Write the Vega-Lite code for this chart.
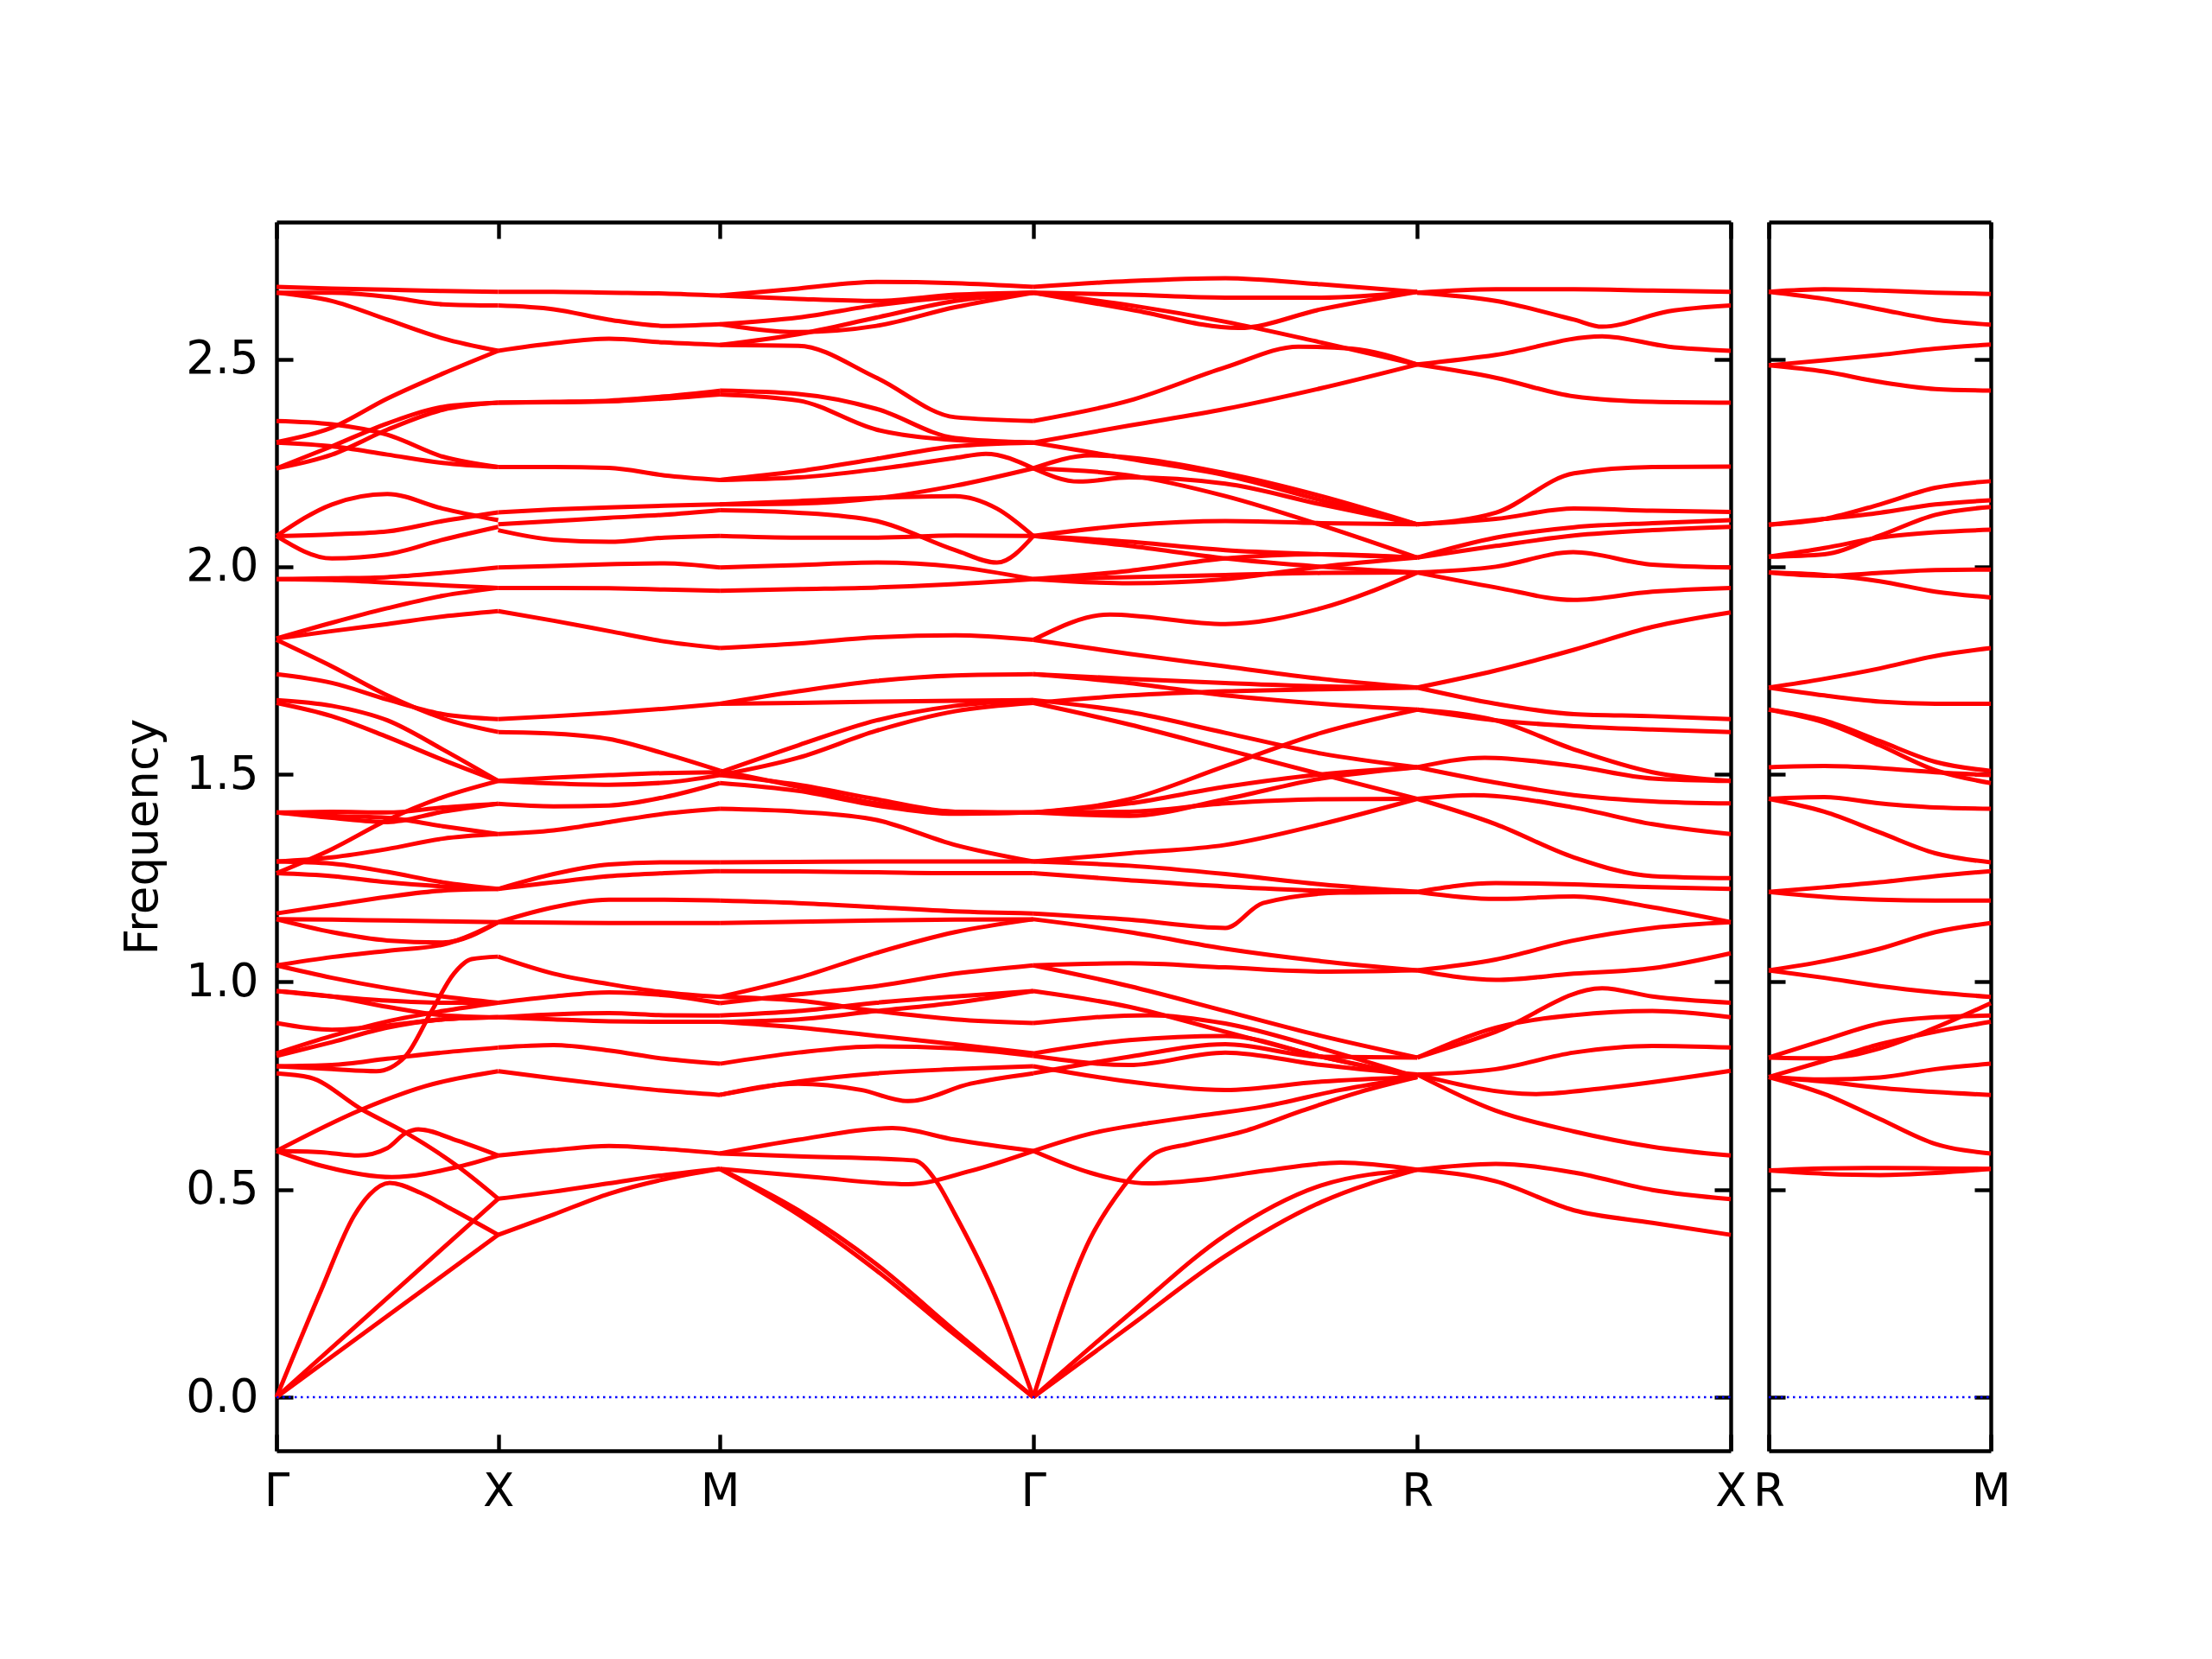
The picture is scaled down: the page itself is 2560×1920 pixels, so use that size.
{
"$schema": "https://vega.github.io/schema/vega-lite/v6.json",
"background": "white",
"padding": {"left": 139, "top": 254, "right": 5, "bottom": 5},
"spacing": 44,
"bounds": "flush",
"config": {"view": {"stroke": null}, "font": "DejaVu Sans",
 "axis": {"domainColor": "black", "tickColor": "black", "domainWidth": 4.4, "tickWidth": 4.4, "tickSize": -19, "labelFont": "DejaVu Sans", "labelFontSize": 53, "labelColor": "black", "titleFont": "DejaVu Sans", "titleFontSize": 53, "titleFontWeight": "normal", "titleColor": "black", "grid": false, "labelPadding": 40, "labelFlush": false, "labelOverlap": false}},
"datasets": {
"m": [
{"b":1,"x":0,"y":2.674},{"b":1,"x":0.25,"y":2.670},{"b":1,"x":0.5,"y":2.667},{"b":1,"x":0.75,"y":2.664},{"b":1,"x":1,"y":2.662},
{"b":2,"x":0,"y":2.660},{"b":2,"x":0.25,"y":2.660},{"b":2,"x":0.5,"y":2.650},{"b":2,"x":0.75,"y":2.632},{"b":2,"x":1,"y":2.629},
{"b":3,"x":0,"y":2.660},{"b":3,"x":0.25,"y":2.640},{"b":3,"x":0.5,"y":2.595},{"b":3,"x":0.75,"y":2.550},{"b":3,"x":1,"y":2.520},
{"b":4,"x":0,"y":2.300},{"b":4,"x":0.25,"y":2.335},{"b":4,"x":0.5,"y":2.405},{"b":4,"x":0.75,"y":2.465},{"b":4,"x":1,"y":2.520},
{"b":5,"x":0,"y":2.351},{"b":5,"x":0.25,"y":2.343},{"b":5,"x":0.5,"y":2.318},{"b":5,"x":0.75,"y":2.265},{"b":5,"x":1,"y":2.240},
{"b":6,"x":0,"y":2.299},{"b":6,"x":0.25,"y":2.290},{"b":6,"x":0.5,"y":2.270},{"b":6,"x":0.75,"y":2.250},{"b":6,"x":1,"y":2.240},
{"b":7,"x":0,"y":2.237},{"b":7,"x":0.25,"y":2.290},{"b":7,"x":0.5,"y":2.345},{"b":7,"x":0.75,"y":2.385},{"b":7,"x":1,"y":2.395},
{"b":8,"x":0,"y":2.237},{"b":8,"x":0.25,"y":2.270},{"b":8,"x":0.5,"y":2.330},{"b":8,"x":0.75,"y":2.378},{"b":8,"x":1,"y":2.395},
{"b":9,"x":0,"y":2.074},{"b":9,"x":0.25,"y":2.150},{"b":9,"x":0.5,"y":2.175},{"b":9,"x":0.75,"y":2.140},{"b":9,"x":1,"y":2.112},
{"b":10,"x":0,"y":2.074},{"b":10,"x":0.25,"y":2.078},{"b":10,"x":0.5,"y":2.085},{"b":10,"x":0.75,"y":2.110},{"b":10,"x":1,"y":2.131},
{"b":11,"x":0,"y":2.074},{"b":11,"x":0.25,"y":2.020},{"b":11,"x":0.5,"y":2.030},{"b":11,"x":0.75,"y":2.065},{"b":11,"x":1,"y":2.096},
{"b":12,"x":0,"y":1.970},{"b":12,"x":0.25,"y":1.972},{"b":12,"x":0.5,"y":1.975},{"b":12,"x":0.75,"y":1.985},{"b":12,"x":1,"y":1.998},
{"b":13,"x":0,"y":1.970},{"b":13,"x":0.25,"y":1.968},{"b":13,"x":0.5,"y":1.962},{"b":13,"x":0.75,"y":1.955},{"b":13,"x":1,"y":1.949},
{"b":14,"x":0,"y":1.827},{"b":14,"x":0.25,"y":1.865},{"b":14,"x":0.5,"y":1.900},{"b":14,"x":0.75,"y":1.930},{"b":14,"x":1,"y":1.949},
{"b":15,"x":0,"y":1.827},{"b":15,"x":0.25,"y":1.845},{"b":15,"x":0.5,"y":1.862},{"b":15,"x":0.75,"y":1.880},{"b":15,"x":1,"y":1.893},
{"b":16,"x":0,"y":1.824},{"b":16,"x":0.25,"y":1.760},{"b":16,"x":0.5,"y":1.690},{"b":16,"x":0.75,"y":1.635},{"b":16,"x":1,"y":1.602},
{"b":17,"x":0,"y":1.741},{"b":17,"x":0.25,"y":1.720},{"b":17,"x":0.5,"y":1.680},{"b":17,"x":0.75,"y":1.645},{"b":17,"x":1,"y":1.633},
{"b":18,"x":0,"y":1.679},{"b":18,"x":0.25,"y":1.665},{"b":18,"x":0.5,"y":1.630},{"b":18,"x":0.75,"y":1.560},{"b":18,"x":1,"y":1.484},
{"b":19,"x":0,"y":1.672},{"b":19,"x":0.25,"y":1.640},{"b":19,"x":0.5,"y":1.590},{"b":19,"x":0.75,"y":1.535},{"b":19,"x":1,"y":1.484},
{"b":20,"x":0,"y":1.408},{"b":20,"x":0.25,"y":1.410},{"b":20,"x":0.5,"y":1.408},{"b":20,"x":0.75,"y":1.420},{"b":20,"x":1,"y":1.429},
{"b":21,"x":0,"y":1.408},{"b":21,"x":0.25,"y":1.395},{"b":21,"x":0.5,"y":1.385},{"b":21,"x":0.75,"y":1.410},{"b":21,"x":1,"y":1.429},
{"b":22,"x":0,"y":1.408},{"b":22,"x":0.25,"y":1.400},{"b":22,"x":0.5,"y":1.395},{"b":22,"x":0.75,"y":1.375},{"b":22,"x":1,"y":1.356},
{"b":23,"x":0,"y":1.262},{"b":23,"x":0.25,"y":1.320},{"b":23,"x":0.5,"y":1.390},{"b":23,"x":0.75,"y":1.445},{"b":23,"x":1,"y":1.484},
{"b":24,"x":0,"y":1.290},{"b":24,"x":0.25,"y":1.300},{"b":24,"x":0.5,"y":1.320},{"b":24,"x":0.75,"y":1.345},{"b":24,"x":1,"y":1.356},
{"b":25,"x":0,"y":1.290},{"b":25,"x":0.25,"y":1.285},{"b":25,"x":0.5,"y":1.265},{"b":25,"x":0.75,"y":1.240},{"b":25,"x":1,"y":1.224},
{"b":26,"x":0,"y":1.262},{"b":26,"x":0.25,"y":1.255},{"b":26,"x":0.5,"y":1.240},{"b":26,"x":0.75,"y":1.230},{"b":26,"x":1,"y":1.224},
{"b":27,"x":0,"y":1.165},{"b":27,"x":0.25,"y":1.185},{"b":27,"x":0.5,"y":1.205},{"b":27,"x":0.75,"y":1.220},{"b":27,"x":1,"y":1.224},
{"b":28,"x":0,"y":1.151},{"b":28,"x":0.25,"y":1.150},{"b":28,"x":0.5,"y":1.148},{"b":28,"x":0.75,"y":1.146},{"b":28,"x":1,"y":1.144},
{"b":29,"x":0,"y":1.151},{"b":29,"x":0.25,"y":1.120},{"b":29,"x":0.5,"y":1.100},{"b":29,"x":0.75,"y":1.095},{"b":29,"x":1,"y":1.144},
{"b":30,"x":0,"y":1.040},{"b":30,"x":0.25,"y":1.060},{"b":30,"x":0.5,"y":1.075},{"b":30,"x":0.75,"y":1.090},{"b":30,"x":1,"y":1.144},
{"b":31,"x":0,"y":1.040},{"b":31,"x":0.25,"y":1.010},{"b":31,"x":0.5,"y":0.985},{"b":31,"x":0.75,"y":0.965},{"b":31,"x":1,"y":0.950},
{"b":32,"x":0,"y":0.978},{"b":32,"x":0.25,"y":0.965},{"b":32,"x":0.5,"y":0.955},{"b":32,"x":0.75,"y":0.950},{"b":32,"x":1,"y":0.950},
{"b":33,"x":0,"y":0.978},{"b":33,"x":0.25,"y":0.965},{"b":33,"x":0.5,"y":0.940},{"b":33,"x":0.75,"y":0.920},{"b":33,"x":1,"y":0.915},
{"b":34,"x":0,"y":0.901},{"b":34,"x":0.25,"y":0.885},{"b":34,"x":0.5,"y":0.895},{"b":34,"x":0.75,"y":0.910},{"b":34,"x":1,"y":0.915},
{"b":35,"x":0,"y":0.797},{"b":35,"x":0.25,"y":0.790},{"b":35,"x":0.45,"y":0.785},{"b":35,"x":0.58,"y":0.820},{"b":35,"x":0.7,"y":0.930},{"b":35,"x":0.8,"y":1.020},{"b":35,"x":0.88,"y":1.055},{"b":35,"x":1,"y":1.061},
{"b":36,"x":0,"y":0.828},{"b":36,"x":0.25,"y":0.870},{"b":36,"x":0.5,"y":0.905},{"b":36,"x":0.75,"y":0.930},{"b":36,"x":1,"y":0.950},
{"b":37,"x":0,"y":0.822},{"b":37,"x":0.25,"y":0.855},{"b":37,"x":0.5,"y":0.890},{"b":37,"x":0.75,"y":0.910},{"b":37,"x":1,"y":0.915},
{"b":38,"x":0,"y":0.797},{"b":38,"x":0.25,"y":0.800},{"b":38,"x":0.5,"y":0.815},{"b":38,"x":0.75,"y":0.830},{"b":38,"x":1,"y":0.842},
{"b":39,"x":0,"y":0.780},{"b":39,"x":0.15,"y":0.770},{"b":39,"x":0.385,"y":0.693},{"b":39,"x":0.58,"y":0.638},{"b":39,"x":0.82,"y":0.555},{"b":39,"x":1,"y":0.478},
{"b":40,"x":0,"y":0.593},{"b":40,"x":0.385,"y":0.693},{"b":40,"x":0.67,"y":0.749},{"b":40,"x":1,"y":0.785},
{"b":41,"x":0,"y":0.593},{"b":41,"x":0.2,"y":0.590},{"b":41,"x":0.37,"y":0.582},{"b":41,"x":0.5,"y":0.600},{"b":41,"x":0.58,"y":0.635},{"b":41,"x":0.64,"y":0.645},{"b":41,"x":0.82,"y":0.617},{"b":41,"x":1,"y":0.582},
{"b":42,"x":0,"y":0.593},{"b":42,"x":0.22,"y":0.555},{"b":42,"x":0.52,"y":0.530},{"b":42,"x":0.82,"y":0.555},{"b":42,"x":1,"y":0.582},
{"b":43,"x":0,"y":0},{"b":43,"x":0.2,"y":0.256},{"b":43,"x":0.35,"y":0.437},{"b":43,"x":0.42,"y":0.488},{"b":43,"x":0.51,"y":0.516},{"b":43,"x":0.65,"y":0.492},{"b":43,"x":0.8,"y":0.450},{"b":43,"x":1,"y":0.391},
{"b":44,"x":0,"y":0},{"b":44,"x":1,"y":0.478},
{"b":45,"x":0,"y":0},{"b":45,"x":1,"y":0.391},
{"b":46,"x":1,"y":2.662},{"b":46,"x":1.25,"y":2.662},{"b":46,"x":1.5,"y":2.660},{"b":46,"x":1.75,"y":2.658},{"b":46,"x":2,"y":2.653},
{"b":47,"x":1,"y":2.629},{"b":47,"x":1.25,"y":2.620},{"b":47,"x":1.5,"y":2.595},{"b":47,"x":1.75,"y":2.580},{"b":47,"x":2,"y":2.584},
{"b":48,"x":1,"y":2.520},{"b":48,"x":1.25,"y":2.538},{"b":48,"x":1.5,"y":2.549},{"b":48,"x":1.75,"y":2.540},{"b":48,"x":2,"y":2.534},
{"b":49,"x":1,"y":2.395},{"b":49,"x":1.25,"y":2.397},{"b":49,"x":1.5,"y":2.400},{"b":49,"x":1.75,"y":2.410},{"b":49,"x":2,"y":2.424},
{"b":50,"x":1,"y":2.395},{"b":50,"x":1.25,"y":2.396},{"b":50,"x":1.5,"y":2.398},{"b":50,"x":1.75,"y":2.405},{"b":50,"x":2,"y":2.415},
{"b":51,"x":1,"y":2.240},{"b":51,"x":1.25,"y":2.240},{"b":51,"x":1.5,"y":2.238},{"b":51,"x":1.75,"y":2.220},{"b":51,"x":2,"y":2.209},
{"b":52,"x":1,"y":2.131},{"b":52,"x":1.25,"y":2.138},{"b":52,"x":1.5,"y":2.143},{"b":52,"x":1.75,"y":2.147},{"b":52,"x":2,"y":2.150},
{"b":53,"x":1,"y":2.102},{"b":53,"x":1.25,"y":2.110},{"b":53,"x":1.5,"y":2.118},{"b":53,"x":1.75,"y":2.125},{"b":53,"x":2,"y":2.136},
{"b":54,"x":1,"y":2.088},{"b":54,"x":1.25,"y":2.065},{"b":54,"x":1.5,"y":2.060},{"b":54,"x":1.75,"y":2.070},{"b":54,"x":2,"y":2.074},
{"b":55,"x":1,"y":1.998},{"b":55,"x":1.25,"y":2.002},{"b":55,"x":1.5,"y":2.006},{"b":55,"x":1.75,"y":2.008},{"b":55,"x":2,"y":1.998},
{"b":56,"x":1,"y":1.949},{"b":56,"x":1.25,"y":1.949},{"b":56,"x":1.5,"y":1.948},{"b":56,"x":1.75,"y":1.945},{"b":56,"x":2,"y":1.942},
{"b":57,"x":1,"y":1.893},{"b":57,"x":1.25,"y":1.870},{"b":57,"x":1.5,"y":1.845},{"b":57,"x":1.75,"y":1.820},{"b":57,"x":2,"y":1.804},
{"b":58,"x":1,"y":1.633},{"b":58,"x":1.25,"y":1.640},{"b":58,"x":1.5,"y":1.648},{"b":58,"x":1.75,"y":1.658},{"b":58,"x":2,"y":1.670},
{"b":59,"x":1,"y":1.602},{"b":59,"x":1.25,"y":1.598},{"b":59,"x":1.5,"y":1.585},{"b":59,"x":1.75,"y":1.550},{"b":59,"x":2,"y":1.509},
{"b":60,"x":1,"y":1.484},{"b":60,"x":1.25,"y":1.492},{"b":60,"x":1.5,"y":1.498},{"b":60,"x":1.75,"y":1.503},{"b":60,"x":2,"y":1.505},
{"b":61,"x":1,"y":1.484},{"b":61,"x":1.25,"y":1.478},{"b":61,"x":1.5,"y":1.475},{"b":61,"x":1.75,"y":1.480},{"b":61,"x":2,"y":1.498},
{"b":62,"x":1,"y":1.429},{"b":62,"x":1.25,"y":1.423},{"b":62,"x":1.5,"y":1.425},{"b":62,"x":1.75,"y":1.445},{"b":62,"x":2,"y":1.479},
{"b":63,"x":1,"y":1.356},{"b":63,"x":1.25,"y":1.365},{"b":63,"x":1.5,"y":1.385},{"b":63,"x":1.75,"y":1.405},{"b":63,"x":2,"y":1.417},
{"b":64,"x":1,"y":1.224},{"b":64,"x":1.25,"y":1.260},{"b":64,"x":1.5,"y":1.283},{"b":64,"x":1.75,"y":1.288},{"b":64,"x":2,"y":1.288},
{"b":65,"x":1,"y":1.224},{"b":65,"x":1.25,"y":1.240},{"b":65,"x":1.5,"y":1.255},{"b":65,"x":1.75,"y":1.262},{"b":65,"x":2,"y":1.267},
{"b":66,"x":1,"y":1.144},{"b":66,"x":1.25,"y":1.180},{"b":66,"x":1.5,"y":1.198},{"b":66,"x":1.75,"y":1.198},{"b":66,"x":2,"y":1.196},
{"b":67,"x":1,"y":1.144},{"b":67,"x":1.25,"y":1.143},{"b":67,"x":1.5,"y":1.142},{"b":67,"x":1.75,"y":1.142},{"b":67,"x":2,"y":1.142},
{"b":68,"x":1,"y":1.061},{"b":68,"x":1.25,"y":1.020},{"b":68,"x":1.5,"y":0.995},{"b":68,"x":1.75,"y":0.975},{"b":68,"x":2,"y":0.964},
{"b":69,"x":1,"y":0.950},{"b":69,"x":1.25,"y":0.965},{"b":69,"x":1.5,"y":0.975},{"b":69,"x":1.75,"y":0.968},{"b":69,"x":2,"y":0.949},
{"b":70,"x":1,"y":0.915},{"b":70,"x":1.25,"y":0.922},{"b":70,"x":1.5,"y":0.925},{"b":70,"x":1.75,"y":0.920},{"b":70,"x":2,"y":0.919},
{"b":71,"x":1,"y":0.915},{"b":71,"x":1.25,"y":0.910},{"b":71,"x":1.5,"y":0.905},{"b":71,"x":1.75,"y":0.904},{"b":71,"x":2,"y":0.904},
{"b":72,"x":1,"y":0.842},{"b":72,"x":1.25,"y":0.848},{"b":72,"x":1.5,"y":0.835},{"b":72,"x":1.75,"y":0.815},{"b":72,"x":2,"y":0.803},
{"b":73,"x":1,"y":0.785},{"b":73,"x":1.25,"y":0.768},{"b":73,"x":1.5,"y":0.752},{"b":73,"x":1.75,"y":0.738},{"b":73,"x":2,"y":0.728},
{"b":74,"x":1,"y":0.582},{"b":74,"x":1.25,"y":0.595},{"b":74,"x":1.5,"y":0.605},{"b":74,"x":1.75,"y":0.598},{"b":74,"x":2,"y":0.587},
{"b":75,"x":1,"y":0.478},{"b":75,"x":1.25,"y":0.495},{"b":75,"x":1.5,"y":0.515},{"b":75,"x":1.75,"y":0.535},{"b":75,"x":2,"y":0.550},
{"b":76,"x":1,"y":0.391},{"b":76,"x":1.25,"y":0.440},{"b":76,"x":1.5,"y":0.490},{"b":76,"x":1.75,"y":0.525},{"b":76,"x":2,"y":0.550},
{"b":77,"x":2,"y":2.653},{"b":77,"x":2.354,"y":2.670},{"b":77,"x":2.707,"y":2.686},{"b":77,"x":3.061,"y":2.683},{"b":77,"x":3.414,"y":2.674},
{"b":78,"x":2,"y":2.653},{"b":78,"x":2.354,"y":2.645},{"b":78,"x":2.707,"y":2.640},{"b":78,"x":3.061,"y":2.655},{"b":78,"x":3.414,"y":2.660},
{"b":79,"x":2,"y":2.584},{"b":79,"x":2.354,"y":2.600},{"b":79,"x":2.707,"y":2.630},{"b":79,"x":3.061,"y":2.650},{"b":79,"x":3.414,"y":2.660},
{"b":80,"x":2,"y":2.534},{"b":80,"x":2.354,"y":2.560},{"b":80,"x":2.707,"y":2.600},{"b":80,"x":3.061,"y":2.640},{"b":80,"x":3.414,"y":2.660},
{"b":81,"x":2,"y":2.534},{"b":81,"x":2.354,"y":2.532},{"b":81,"x":2.707,"y":2.455},{"b":81,"x":3.061,"y":2.360},{"b":81,"x":3.414,"y":2.351},
{"b":82,"x":2,"y":2.584},{"b":82,"x":2.354,"y":2.565},{"b":82,"x":2.707,"y":2.580},{"b":82,"x":3.061,"y":2.625},{"b":82,"x":3.414,"y":2.660},
{"b":83,"x":2,"y":2.424},{"b":83,"x":2.354,"y":2.416},{"b":83,"x":2.707,"y":2.380},{"b":83,"x":3.061,"y":2.310},{"b":83,"x":3.414,"y":2.299},
{"b":84,"x":2,"y":2.415},{"b":84,"x":2.354,"y":2.400},{"b":84,"x":2.707,"y":2.330},{"b":84,"x":3.061,"y":2.305},{"b":84,"x":3.414,"y":2.299},
{"b":85,"x":2,"y":2.209},{"b":85,"x":2.354,"y":2.230},{"b":85,"x":2.707,"y":2.260},{"b":85,"x":3.061,"y":2.290},{"b":85,"x":3.414,"y":2.299},
{"b":86,"x":2,"y":2.209},{"b":86,"x":2.354,"y":2.215},{"b":86,"x":2.707,"y":2.235},{"b":86,"x":3.061,"y":2.262},{"b":86,"x":3.2,"y":2.272},{"b":86,"x":3.414,"y":2.237},
{"b":87,"x":2,"y":2.150},{"b":87,"x":2.354,"y":2.152},{"b":87,"x":2.707,"y":2.165},{"b":87,"x":3.061,"y":2.195},{"b":87,"x":3.414,"y":2.237},
{"b":88,"x":2,"y":2.150},{"b":88,"x":2.354,"y":2.158},{"b":88,"x":2.707,"y":2.166},{"b":88,"x":3.061,"y":2.170},{"b":88,"x":3.25,"y":2.140},{"b":88,"x":3.414,"y":2.074},
{"b":89,"x":2,"y":2.136},{"b":89,"x":2.354,"y":2.130},{"b":89,"x":2.707,"y":2.110},{"b":89,"x":3.061,"y":2.040},{"b":89,"x":3.25,"y":2.010},{"b":89,"x":3.414,"y":2.074},
{"b":90,"x":2,"y":2.074},{"b":90,"x":2.354,"y":2.070},{"b":90,"x":2.707,"y":2.070},{"b":90,"x":3.061,"y":2.075},{"b":90,"x":3.414,"y":2.074},
{"b":91,"x":2,"y":1.998},{"b":91,"x":2.354,"y":2.004},{"b":91,"x":2.707,"y":2.010},{"b":91,"x":3.061,"y":2.000},{"b":91,"x":3.414,"y":1.970},
{"b":92,"x":2,"y":1.942},{"b":92,"x":2.354,"y":1.946},{"b":92,"x":2.707,"y":1.950},{"b":92,"x":3.061,"y":1.958},{"b":92,"x":3.414,"y":1.970},
{"b":93,"x":2,"y":1.804},{"b":93,"x":2.354,"y":1.815},{"b":93,"x":2.707,"y":1.830},{"b":93,"x":3.061,"y":1.835},{"b":93,"x":3.414,"y":1.824},
{"b":94,"x":2,"y":1.670},{"b":94,"x":2.354,"y":1.700},{"b":94,"x":2.707,"y":1.725},{"b":94,"x":3.061,"y":1.738},{"b":94,"x":3.414,"y":1.741},
{"b":95,"x":2,"y":1.670},{"b":95,"x":2.354,"y":1.672},{"b":95,"x":2.707,"y":1.675},{"b":95,"x":3.061,"y":1.677},{"b":95,"x":3.414,"y":1.679},
{"b":96,"x":2,"y":1.505},{"b":96,"x":2.354,"y":1.570},{"b":96,"x":2.707,"y":1.630},{"b":96,"x":3.061,"y":1.665},{"b":96,"x":3.414,"y":1.679},
{"b":97,"x":2,"y":1.498},{"b":97,"x":2.354,"y":1.540},{"b":97,"x":2.707,"y":1.605},{"b":97,"x":3.061,"y":1.652},{"b":97,"x":3.414,"y":1.672},
{"b":98,"x":2,"y":1.509},{"b":98,"x":2.354,"y":1.470},{"b":98,"x":2.707,"y":1.430},{"b":98,"x":3.061,"y":1.410},{"b":98,"x":3.414,"y":1.408},
{"b":99,"x":2,"y":1.479},{"b":99,"x":2.354,"y":1.460},{"b":99,"x":2.707,"y":1.425},{"b":99,"x":3.061,"y":1.405},{"b":99,"x":3.414,"y":1.408},
{"b":100,"x":2,"y":1.498},{"b":100,"x":2.354,"y":1.475},{"b":100,"x":2.707,"y":1.440},{"b":100,"x":3.061,"y":1.410},{"b":100,"x":3.414,"y":1.408},
{"b":101,"x":2,"y":1.417},{"b":101,"x":2.354,"y":1.410},{"b":101,"x":2.707,"y":1.390},{"b":101,"x":3.061,"y":1.330},{"b":101,"x":3.414,"y":1.290},
{"b":102,"x":2,"y":1.288},{"b":102,"x":2.354,"y":1.289},{"b":102,"x":2.707,"y":1.290},{"b":102,"x":3.061,"y":1.290},{"b":102,"x":3.414,"y":1.290},
{"b":103,"x":2,"y":1.267},{"b":103,"x":2.354,"y":1.266},{"b":103,"x":2.707,"y":1.264},{"b":103,"x":3.061,"y":1.262},{"b":103,"x":3.414,"y":1.262},
{"b":104,"x":2,"y":1.196},{"b":104,"x":2.354,"y":1.190},{"b":104,"x":2.707,"y":1.180},{"b":104,"x":3.061,"y":1.170},{"b":104,"x":3.414,"y":1.165},
{"b":105,"x":2,"y":1.142},{"b":105,"x":2.354,"y":1.145},{"b":105,"x":2.707,"y":1.148},{"b":105,"x":3.061,"y":1.150},{"b":105,"x":3.414,"y":1.151},
{"b":106,"x":2,"y":0.964},{"b":106,"x":2.354,"y":1.010},{"b":106,"x":2.707,"y":1.070},{"b":106,"x":3.061,"y":1.120},{"b":106,"x":3.414,"y":1.151},
{"b":107,"x":2,"y":0.949},{"b":107,"x":2.354,"y":0.970},{"b":107,"x":2.707,"y":0.990},{"b":107,"x":3.061,"y":1.020},{"b":107,"x":3.414,"y":1.040},
{"b":108,"x":2,"y":0.919},{"b":108,"x":2.354,"y":0.930},{"b":108,"x":2.707,"y":0.950},{"b":108,"x":3.061,"y":0.965},{"b":108,"x":3.414,"y":0.978},
{"b":109,"x":2,"y":0.904},{"b":109,"x":2.354,"y":0.910},{"b":109,"x":2.707,"y":0.930},{"b":109,"x":3.061,"y":0.950},{"b":109,"x":3.414,"y":0.978},
{"b":110,"x":2,"y":0.964},{"b":110,"x":2.354,"y":0.955},{"b":110,"x":2.707,"y":0.930},{"b":110,"x":3.061,"y":0.910},{"b":110,"x":3.414,"y":0.901},
{"b":111,"x":2,"y":0.904},{"b":111,"x":2.354,"y":0.890},{"b":111,"x":2.707,"y":0.870},{"b":111,"x":3.061,"y":0.850},{"b":111,"x":3.414,"y":0.828},
{"b":112,"x":2,"y":0.803},{"b":112,"x":2.354,"y":0.830},{"b":112,"x":2.707,"y":0.845},{"b":112,"x":3.061,"y":0.840},{"b":112,"x":3.414,"y":0.822},
{"b":113,"x":2,"y":0.728},{"b":113,"x":2.354,"y":0.760},{"b":113,"x":2.707,"y":0.780},{"b":113,"x":3.061,"y":0.790},{"b":113,"x":3.414,"y":0.797},
{"b":114,"x":2,"y":0.728},{"b":114,"x":2.354,"y":0.755},{"b":114,"x":2.636,"y":0.740},{"b":114,"x":2.849,"y":0.713},{"b":114,"x":3.131,"y":0.755},{"b":114,"x":3.414,"y":0.780},
{"b":115,"x":2,"y":0.587},{"b":115,"x":2.354,"y":0.620},{"b":115,"x":2.778,"y":0.648},{"b":115,"x":3.061,"y":0.620},{"b":115,"x":3.414,"y":0.593},
{"b":116,"x":2,"y":0.550},{"b":116,"x":2.424,"y":0.530},{"b":116,"x":2.849,"y":0.513},{"b":116,"x":3.131,"y":0.545},{"b":116,"x":3.414,"y":0.593},
{"b":117,"x":2,"y":0.587},{"b":117,"x":2.354,"y":0.580},{"b":117,"x":2.707,"y":0.575},{"b":117,"x":2.877,"y":0.570},{"b":117,"x":2.976,"y":0.520},{"b":117,"x":3.061,"y":0.440},{"b":117,"x":3.245,"y":0.240},{"b":117,"x":3.414,"y":0},
{"b":118,"x":2,"y":0.550},{"b":118,"x":2.354,"y":0.450},{"b":118,"x":2.707,"y":0.320},{"b":118,"x":3.061,"y":0.159},{"b":118,"x":3.414,"y":0},
{"b":119,"x":2,"y":0.550},{"b":119,"x":2.354,"y":0.440},{"b":119,"x":2.707,"y":0.305},{"b":119,"x":3.061,"y":0.150},{"b":119,"x":3.414,"y":0},
{"b":120,"x":3.414,"y":2.674},{"b":120,"x":3.847,"y":2.688},{"b":120,"x":4.280,"y":2.695},{"b":120,"x":4.713,"y":2.680},{"b":120,"x":5.146,"y":2.662},
{"b":121,"x":3.414,"y":2.660},{"b":121,"x":3.847,"y":2.655},{"b":121,"x":4.280,"y":2.648},{"b":121,"x":4.713,"y":2.648},{"b":121,"x":5.146,"y":2.662},
{"b":122,"x":3.414,"y":2.660},{"b":122,"x":3.847,"y":2.620},{"b":122,"x":4.34,"y":2.575},{"b":122,"x":4.713,"y":2.620},{"b":122,"x":5.146,"y":2.662},
{"b":123,"x":3.414,"y":2.660},{"b":123,"x":3.847,"y":2.630},{"b":123,"x":4.280,"y":2.590},{"b":123,"x":4.713,"y":2.540},{"b":123,"x":5.146,"y":2.487},
{"b":124,"x":3.414,"y":2.351},{"b":124,"x":3.847,"y":2.400},{"b":124,"x":4.280,"y":2.480},{"b":124,"x":4.61,"y":2.530},{"b":124,"x":4.85,"y":2.525},{"b":124,"x":5.146,"y":2.487},
{"b":125,"x":3.414,"y":2.299},{"b":125,"x":3.847,"y":2.340},{"b":125,"x":4.280,"y":2.380},{"b":125,"x":4.713,"y":2.430},{"b":125,"x":5.146,"y":2.487},
{"b":126,"x":3.414,"y":2.237},{"b":126,"x":3.674,"y":2.268},{"b":126,"x":4.280,"y":2.225},{"b":126,"x":4.713,"y":2.170},{"b":126,"x":5.146,"y":2.102},
{"b":127,"x":3.414,"y":2.237},{"b":127,"x":3.62,"y":2.205},{"b":127,"x":3.847,"y":2.215},{"b":127,"x":4.280,"y":2.200},{"b":127,"x":4.713,"y":2.150},{"b":127,"x":5.146,"y":2.102},
{"b":128,"x":3.414,"y":2.237},{"b":128,"x":3.847,"y":2.220},{"b":128,"x":4.280,"y":2.170},{"b":128,"x":4.713,"y":2.100},{"b":128,"x":5.146,"y":2.022},
{"b":129,"x":3.414,"y":2.299},{"b":129,"x":3.847,"y":2.260},{"b":129,"x":4.280,"y":2.220},{"b":129,"x":4.713,"y":2.160},{"b":129,"x":5.146,"y":2.102},
{"b":130,"x":3.414,"y":2.074},{"b":130,"x":3.847,"y":2.100},{"b":130,"x":4.280,"y":2.110},{"b":130,"x":4.713,"y":2.105},{"b":130,"x":5.146,"y":2.102},
{"b":131,"x":3.414,"y":2.074},{"b":131,"x":3.847,"y":2.060},{"b":131,"x":4.280,"y":2.040},{"b":131,"x":4.713,"y":2.030},{"b":131,"x":5.146,"y":2.022},
{"b":132,"x":3.414,"y":2.074},{"b":132,"x":3.847,"y":2.050},{"b":132,"x":4.280,"y":2.020},{"b":132,"x":4.713,"y":2.000},{"b":132,"x":5.146,"y":1.986},
{"b":133,"x":3.414,"y":1.970},{"b":133,"x":3.847,"y":1.975},{"b":133,"x":4.280,"y":1.980},{"b":133,"x":4.713,"y":1.985},{"b":133,"x":5.146,"y":1.986},
{"b":134,"x":3.414,"y":1.970},{"b":134,"x":3.847,"y":1.990},{"b":134,"x":4.280,"y":2.020},{"b":134,"x":4.713,"y":2.030},{"b":134,"x":5.146,"y":2.022},
{"b":135,"x":3.414,"y":1.970},{"b":135,"x":3.847,"y":1.960},{"b":135,"x":4.280,"y":1.970},{"b":135,"x":4.713,"y":2.000},{"b":135,"x":5.146,"y":2.022},
{"b":136,"x":3.414,"y":1.824},{"b":136,"x":3.76,"y":1.885},{"b":136,"x":4.280,"y":1.862},{"b":136,"x":4.713,"y":1.900},{"b":136,"x":5.146,"y":1.986},
{"b":137,"x":3.414,"y":1.824},{"b":137,"x":3.847,"y":1.790},{"b":137,"x":4.280,"y":1.760},{"b":137,"x":4.713,"y":1.730},{"b":137,"x":5.146,"y":1.709},
{"b":138,"x":3.414,"y":1.741},{"b":138,"x":3.847,"y":1.730},{"b":138,"x":4.280,"y":1.720},{"b":138,"x":4.713,"y":1.712},{"b":138,"x":5.146,"y":1.709},
{"b":139,"x":3.414,"y":1.672},{"b":139,"x":3.847,"y":1.690},{"b":139,"x":4.280,"y":1.700},{"b":139,"x":4.713,"y":1.705},{"b":139,"x":5.146,"y":1.709},
{"b":140,"x":3.414,"y":1.741},{"b":140,"x":3.847,"y":1.720},{"b":140,"x":4.280,"y":1.690},{"b":140,"x":4.713,"y":1.670},{"b":140,"x":5.146,"y":1.656},
{"b":141,"x":3.414,"y":1.679},{"b":141,"x":3.847,"y":1.650},{"b":141,"x":4.280,"y":1.600},{"b":141,"x":4.713,"y":1.550},{"b":141,"x":5.146,"y":1.517},
{"b":142,"x":3.414,"y":1.672},{"b":142,"x":3.847,"y":1.620},{"b":142,"x":4.280,"y":1.560},{"b":142,"x":4.713,"y":1.500},{"b":142,"x":5.146,"y":1.441},
{"b":143,"x":3.414,"y":1.408},{"b":143,"x":3.847,"y":1.440},{"b":143,"x":4.280,"y":1.520},{"b":143,"x":4.713,"y":1.600},{"b":143,"x":5.146,"y":1.656},
{"b":144,"x":3.414,"y":1.408},{"b":144,"x":3.847,"y":1.430},{"b":144,"x":4.280,"y":1.470},{"b":144,"x":4.713,"y":1.500},{"b":144,"x":5.146,"y":1.517},
{"b":145,"x":3.414,"y":1.408},{"b":145,"x":3.847,"y":1.400},{"b":145,"x":4.280,"y":1.440},{"b":145,"x":4.713,"y":1.490},{"b":145,"x":5.146,"y":1.517},
{"b":146,"x":3.414,"y":1.408},{"b":146,"x":3.847,"y":1.410},{"b":146,"x":4.280,"y":1.430},{"b":146,"x":4.713,"y":1.440},{"b":146,"x":5.146,"y":1.441},
{"b":147,"x":3.414,"y":1.290},{"b":147,"x":3.847,"y":1.310},{"b":147,"x":4.280,"y":1.330},{"b":147,"x":4.713,"y":1.380},{"b":147,"x":5.146,"y":1.441},
{"b":148,"x":3.414,"y":1.262},{"b":148,"x":3.847,"y":1.245},{"b":148,"x":4.280,"y":1.230},{"b":148,"x":4.713,"y":1.220},{"b":148,"x":5.146,"y":1.217},
{"b":149,"x":3.414,"y":1.165},{"b":149,"x":3.847,"y":1.150},{"b":149,"x":4.280,"y":1.130},{"b":149,"x":4.45,"y":1.190},{"b":149,"x":4.80,"y":1.215},{"b":149,"x":5.146,"y":1.217},
{"b":150,"x":3.414,"y":1.290},{"b":150,"x":3.847,"y":1.280},{"b":150,"x":4.280,"y":1.260},{"b":150,"x":4.713,"y":1.235},{"b":150,"x":5.146,"y":1.217},
{"b":151,"x":3.414,"y":1.151},{"b":151,"x":3.847,"y":1.120},{"b":151,"x":4.280,"y":1.080},{"b":151,"x":4.713,"y":1.050},{"b":151,"x":5.146,"y":1.028},
{"b":152,"x":3.414,"y":1.040},{"b":152,"x":3.847,"y":1.045},{"b":152,"x":4.280,"y":1.035},{"b":152,"x":4.713,"y":1.025},{"b":152,"x":5.146,"y":1.028},
{"b":153,"x":3.414,"y":1.040},{"b":153,"x":3.847,"y":0.990},{"b":153,"x":4.280,"y":0.930},{"b":153,"x":4.713,"y":0.870},{"b":153,"x":5.146,"y":0.818},
{"b":154,"x":3.414,"y":0.978},{"b":154,"x":3.847,"y":0.940},{"b":154,"x":4.280,"y":0.880},{"b":154,"x":4.713,"y":0.820},{"b":154,"x":5.146,"y":0.771},
{"b":155,"x":3.414,"y":0.901},{"b":155,"x":3.94,"y":0.920},{"b":155,"x":4.280,"y":0.900},{"b":155,"x":4.713,"y":0.840},{"b":155,"x":5.146,"y":0.771},
{"b":156,"x":3.414,"y":0.828},{"b":156,"x":3.847,"y":0.860},{"b":156,"x":4.280,"y":0.870},{"b":156,"x":4.713,"y":0.820},{"b":156,"x":5.146,"y":0.771},
{"b":157,"x":3.414,"y":0.822},{"b":157,"x":3.847,"y":0.800},{"b":157,"x":4.280,"y":0.830},{"b":157,"x":4.713,"y":0.800},{"b":157,"x":5.146,"y":0.777},
{"b":158,"x":3.414,"y":0.797},{"b":158,"x":3.847,"y":0.760},{"b":158,"x":4.280,"y":0.740},{"b":158,"x":4.713,"y":0.760},{"b":158,"x":5.146,"y":0.771},
{"b":159,"x":3.414,"y":0.780},{"b":159,"x":3.847,"y":0.820},{"b":159,"x":4.280,"y":0.850},{"b":159,"x":4.713,"y":0.820},{"b":159,"x":5.146,"y":0.818},
{"b":160,"x":3.414,"y":0.593},{"b":160,"x":3.674,"y":0.635},{"b":160,"x":3.934,"y":0.660},{"b":160,"x":4.194,"y":0.680},{"b":160,"x":4.453,"y":0.700},{"b":160,"x":4.80,"y":0.740},{"b":160,"x":5.146,"y":0.771},
{"b":161,"x":3.414,"y":0.593},{"b":161,"x":3.674,"y":0.540},{"b":161,"x":3.934,"y":0.515},{"b":161,"x":4.194,"y":0.525},{"b":161,"x":4.453,"y":0.545},{"b":161,"x":4.80,"y":0.565},{"b":161,"x":5.146,"y":0.548},
{"b":162,"x":3.414,"y":0},{"b":162,"x":3.670,"y":0.381},{"b":162,"x":3.819,"y":0.506},{"b":162,"x":3.895,"y":0.555},{"b":162,"x":3.968,"y":0.589},{"b":162,"x":4.119,"y":0.610},{"b":162,"x":4.362,"y":0.640},{"b":162,"x":4.627,"y":0.690},{"b":162,"x":4.886,"y":0.735},{"b":162,"x":5.146,"y":0.771},
{"b":163,"x":3.414,"y":0},{"b":163,"x":3.847,"y":0.200},{"b":163,"x":4.280,"y":0.390},{"b":163,"x":4.713,"y":0.510},{"b":163,"x":5.146,"y":0.548},
{"b":164,"x":3.414,"y":0},{"b":164,"x":3.847,"y":0.170},{"b":164,"x":4.280,"y":0.340},{"b":164,"x":4.713,"y":0.470},{"b":164,"x":5.146,"y":0.548},
{"b":165,"x":5.146,"y":2.660},{"b":165,"x":5.500,"y":2.668},{"b":165,"x":5.853,"y":2.668},{"b":165,"x":6.207,"y":2.665},{"b":165,"x":6.56,"y":2.662},
{"b":166,"x":5.146,"y":2.660},{"b":166,"x":5.5,"y":2.640},{"b":166,"x":5.853,"y":2.595},{"b":166,"x":5.98,"y":2.578},{"b":166,"x":6.28,"y":2.615},{"b":166,"x":6.56,"y":2.629},
{"b":167,"x":5.146,"y":2.487},{"b":167,"x":5.5,"y":2.510},{"b":167,"x":5.98,"y":2.555},{"b":167,"x":6.28,"y":2.530},{"b":167,"x":6.56,"y":2.520},
{"b":168,"x":5.146,"y":2.487},{"b":168,"x":5.500,"y":2.455},{"b":168,"x":5.853,"y":2.410},{"b":168,"x":6.207,"y":2.397},{"b":168,"x":6.56,"y":2.395},
{"b":169,"x":5.146,"y":2.102},{"b":169,"x":5.500,"y":2.130},{"b":169,"x":5.853,"y":2.225},{"b":169,"x":6.207,"y":2.240},{"b":169,"x":6.56,"y":2.241},
{"b":170,"x":5.146,"y":2.102},{"b":170,"x":5.500,"y":2.115},{"b":170,"x":5.853,"y":2.140},{"b":170,"x":6.207,"y":2.135},{"b":170,"x":6.56,"y":2.132},
{"b":171,"x":5.146,"y":2.022},{"b":171,"x":5.500,"y":2.070},{"b":171,"x":5.853,"y":2.095},{"b":171,"x":6.207,"y":2.105},{"b":171,"x":6.56,"y":2.112},
{"b":172,"x":5.146,"y":2.022},{"b":172,"x":5.500,"y":2.050},{"b":172,"x":5.853,"y":2.075},{"b":172,"x":6.207,"y":2.088},{"b":172,"x":6.56,"y":2.096},
{"b":173,"x":5.146,"y":1.986},{"b":173,"x":5.5,"y":2.000},{"b":173,"x":5.85,"y":2.035},{"b":173,"x":6.207,"y":2.005},{"b":173,"x":6.56,"y":1.998},
{"b":174,"x":5.146,"y":1.986},{"b":174,"x":5.5,"y":1.950},{"b":174,"x":5.85,"y":1.920},{"b":174,"x":6.207,"y":1.940},{"b":174,"x":6.56,"y":1.949},
{"b":175,"x":5.146,"y":1.709},{"b":175,"x":5.500,"y":1.750},{"b":175,"x":5.853,"y":1.800},{"b":175,"x":6.207,"y":1.855},{"b":175,"x":6.56,"y":1.890},
{"b":176,"x":5.146,"y":1.709},{"b":176,"x":5.500,"y":1.670},{"b":176,"x":5.853,"y":1.645},{"b":176,"x":6.207,"y":1.640},{"b":176,"x":6.56,"y":1.633},
{"b":177,"x":5.146,"y":1.656},{"b":177,"x":5.500,"y":1.630},{"b":177,"x":5.853,"y":1.616},{"b":177,"x":6.207,"y":1.608},{"b":177,"x":6.56,"y":1.602},
{"b":178,"x":5.146,"y":1.656},{"b":178,"x":5.500,"y":1.630},{"b":178,"x":5.853,"y":1.560},{"b":178,"x":6.207,"y":1.505},{"b":178,"x":6.56,"y":1.484},
{"b":179,"x":5.146,"y":1.517},{"b":179,"x":5.45,"y":1.540},{"b":179,"x":5.853,"y":1.520},{"b":179,"x":6.207,"y":1.490},{"b":179,"x":6.56,"y":1.484},
{"b":180,"x":5.146,"y":1.517},{"b":180,"x":5.500,"y":1.480},{"b":180,"x":5.853,"y":1.450},{"b":180,"x":6.207,"y":1.435},{"b":180,"x":6.56,"y":1.430},
{"b":181,"x":5.146,"y":1.441},{"b":181,"x":5.4,"y":1.450},{"b":181,"x":5.853,"y":1.420},{"b":181,"x":6.207,"y":1.380},{"b":181,"x":6.56,"y":1.356},
{"b":182,"x":5.146,"y":1.441},{"b":182,"x":5.500,"y":1.380},{"b":182,"x":5.853,"y":1.300},{"b":182,"x":6.207,"y":1.255},{"b":182,"x":6.56,"y":1.250},
{"b":183,"x":5.146,"y":1.217},{"b":183,"x":5.500,"y":1.238},{"b":183,"x":5.853,"y":1.235},{"b":183,"x":6.207,"y":1.228},{"b":183,"x":6.56,"y":1.224},
{"b":184,"x":5.146,"y":1.217},{"b":184,"x":5.500,"y":1.200},{"b":184,"x":5.853,"y":1.206},{"b":184,"x":6.207,"y":1.180},{"b":184,"x":6.56,"y":1.144},
{"b":185,"x":5.146,"y":1.028},{"b":185,"x":5.500,"y":1.054},{"b":185,"x":5.853,"y":1.100},{"b":185,"x":6.207,"y":1.130},{"b":185,"x":6.56,"y":1.144},
{"b":186,"x":5.146,"y":1.028},{"b":186,"x":5.500,"y":1.005},{"b":186,"x":5.853,"y":1.020},{"b":186,"x":6.207,"y":1.033},{"b":186,"x":6.56,"y":1.069},
{"b":187,"x":5.146,"y":0.818},{"b":187,"x":5.5,"y":0.880},{"b":187,"x":5.98,"y":0.985},{"b":187,"x":6.207,"y":0.965},{"b":187,"x":6.56,"y":0.950},
{"b":188,"x":5.146,"y":0.818},{"b":188,"x":5.500,"y":0.890},{"b":188,"x":5.853,"y":0.920},{"b":188,"x":6.207,"y":0.930},{"b":188,"x":6.56,"y":0.915},
{"b":189,"x":5.146,"y":0.777},{"b":189,"x":5.500,"y":0.790},{"b":189,"x":5.853,"y":0.830},{"b":189,"x":6.207,"y":0.846},{"b":189,"x":6.56,"y":0.842},
{"b":190,"x":5.146,"y":0.777},{"b":190,"x":5.68,"y":0.730},{"b":190,"x":6.0,"y":0.745},{"b":190,"x":6.56,"y":0.786},
{"b":191,"x":5.146,"y":0.777},{"b":191,"x":5.500,"y":0.690},{"b":191,"x":5.853,"y":0.640},{"b":191,"x":6.207,"y":0.603},{"b":191,"x":6.56,"y":0.582},
{"b":192,"x":5.146,"y":0.548},{"b":192,"x":5.500,"y":0.562},{"b":192,"x":5.853,"y":0.541},{"b":192,"x":6.207,"y":0.499},{"b":192,"x":6.56,"y":0.477},
{"b":193,"x":5.146,"y":0.548},{"b":193,"x":5.500,"y":0.520},{"b":193,"x":5.853,"y":0.450},{"b":193,"x":6.207,"y":0.420},{"b":193,"x":6.56,"y":0.391}
],
"r": [
{"b":201,"x":0,"y":2.662},{"b":201,"x":0.25,"y":2.668},{"b":201,"x":0.5,"y":2.665},{"b":201,"x":0.75,"y":2.660},{"b":201,"x":1,"y":2.657},
{"b":202,"x":0,"y":2.662},{"b":202,"x":0.25,"y":2.645},{"b":202,"x":0.5,"y":2.620},{"b":202,"x":0.75,"y":2.595},{"b":202,"x":1,"y":2.583},
{"b":203,"x":0,"y":2.485},{"b":203,"x":0.25,"y":2.497},{"b":203,"x":0.5,"y":2.510},{"b":203,"x":0.75,"y":2.525},{"b":203,"x":1,"y":2.535},
{"b":204,"x":0,"y":2.485},{"b":204,"x":0.25,"y":2.470},{"b":204,"x":0.5,"y":2.445},{"b":204,"x":0.75,"y":2.428},{"b":204,"x":1,"y":2.424},
{"b":205,"x":0,"y":2.101},{"b":205,"x":0.25,"y":2.115},{"b":205,"x":0.5,"y":2.150},{"b":205,"x":0.75,"y":2.190},{"b":205,"x":1,"y":2.206},
{"b":206,"x":0,"y":2.101},{"b":206,"x":0.25,"y":2.115},{"b":206,"x":0.5,"y":2.130},{"b":206,"x":0.75,"y":2.150},{"b":206,"x":1,"y":2.160},
{"b":207,"x":0,"y":2.024},{"b":207,"x":0.25,"y":2.030},{"b":207,"x":0.5,"y":2.075},{"b":207,"x":0.75,"y":2.125},{"b":207,"x":1,"y":2.144},
{"b":208,"x":0,"y":2.024},{"b":208,"x":0.25,"y":2.045},{"b":208,"x":0.5,"y":2.070},{"b":208,"x":0.75,"y":2.083},{"b":208,"x":1,"y":2.089},
{"b":209,"x":0,"y":1.986},{"b":209,"x":0.25,"y":1.980},{"b":209,"x":0.5,"y":1.965},{"b":209,"x":0.75,"y":1.940},{"b":209,"x":1,"y":1.926},
{"b":210,"x":0,"y":1.986},{"b":210,"x":0.25,"y":1.978},{"b":210,"x":0.5,"y":1.985},{"b":210,"x":0.75,"y":1.992},{"b":210,"x":1,"y":1.993},
{"b":211,"x":0,"y":1.709},{"b":211,"x":0.25,"y":1.730},{"b":211,"x":0.5,"y":1.755},{"b":211,"x":0.75,"y":1.785},{"b":211,"x":1,"y":1.804},
{"b":212,"x":0,"y":1.709},{"b":212,"x":0.25,"y":1.690},{"b":212,"x":0.5,"y":1.675},{"b":212,"x":0.75,"y":1.670},{"b":212,"x":1,"y":1.670},
{"b":213,"x":0,"y":1.656},{"b":213,"x":0.25,"y":1.630},{"b":213,"x":0.5,"y":1.580},{"b":213,"x":0.75,"y":1.530},{"b":213,"x":1,"y":1.508},
{"b":214,"x":0,"y":1.656},{"b":214,"x":0.25,"y":1.625},{"b":214,"x":0.5,"y":1.570},{"b":214,"x":0.75,"y":1.510},{"b":214,"x":1,"y":1.479},
{"b":215,"x":0,"y":1.517},{"b":215,"x":0.25,"y":1.520},{"b":215,"x":0.5,"y":1.515},{"b":215,"x":0.75,"y":1.505},{"b":215,"x":1,"y":1.498},
{"b":216,"x":0,"y":1.441},{"b":216,"x":0.25,"y":1.445},{"b":216,"x":0.5,"y":1.430},{"b":216,"x":0.75,"y":1.420},{"b":216,"x":1,"y":1.417},
{"b":217,"x":0,"y":1.441},{"b":217,"x":0.25,"y":1.410},{"b":217,"x":0.5,"y":1.360},{"b":217,"x":0.75,"y":1.310},{"b":217,"x":1,"y":1.288},
{"b":218,"x":0,"y":1.217},{"b":218,"x":0.25,"y":1.228},{"b":218,"x":0.5,"y":1.240},{"b":218,"x":0.75,"y":1.255},{"b":218,"x":1,"y":1.267},
{"b":219,"x":0,"y":1.217},{"b":219,"x":0.25,"y":1.205},{"b":219,"x":0.5,"y":1.198},{"b":219,"x":0.75,"y":1.196},{"b":219,"x":1,"y":1.196},
{"b":220,"x":0,"y":1.028},{"b":220,"x":0.25,"y":1.050},{"b":220,"x":0.5,"y":1.080},{"b":220,"x":0.75,"y":1.120},{"b":220,"x":1,"y":1.142},
{"b":221,"x":0,"y":1.028},{"b":221,"x":0.25,"y":1.010},{"b":221,"x":0.5,"y":0.990},{"b":221,"x":0.75,"y":0.975},{"b":221,"x":1,"y":0.964},
{"b":222,"x":0,"y":0.818},{"b":222,"x":0.25,"y":0.816},{"b":222,"x":0.5,"y":0.840},{"b":222,"x":0.75,"y":0.890},{"b":222,"x":1,"y":0.949},
{"b":223,"x":0,"y":0.818},{"b":223,"x":0.25,"y":0.860},{"b":223,"x":0.5,"y":0.900},{"b":223,"x":0.75,"y":0.915},{"b":223,"x":1,"y":0.919},
{"b":224,"x":0,"y":0.771},{"b":224,"x":0.25,"y":0.810},{"b":224,"x":0.5,"y":0.850},{"b":224,"x":0.75,"y":0.880},{"b":224,"x":1,"y":0.904},
{"b":225,"x":0,"y":0.771},{"b":225,"x":0.25,"y":0.765},{"b":225,"x":0.5,"y":0.770},{"b":225,"x":0.75,"y":0.790},{"b":225,"x":1,"y":0.803},
{"b":226,"x":0,"y":0.771},{"b":226,"x":0.25,"y":0.760},{"b":226,"x":0.5,"y":0.745},{"b":226,"x":0.75,"y":0.735},{"b":226,"x":1,"y":0.728},
{"b":227,"x":0,"y":0.771},{"b":227,"x":0.25,"y":0.730},{"b":227,"x":0.5,"y":0.670},{"b":227,"x":0.75,"y":0.610},{"b":227,"x":1,"y":0.587},
{"b":228,"x":0,"y":0.546},{"b":228,"x":0.25,"y":0.551},{"b":228,"x":0.5,"y":0.552},{"b":228,"x":0.75,"y":0.551},{"b":228,"x":1,"y":0.550},
{"b":229,"x":0,"y":0.546},{"b":229,"x":0.25,"y":0.538},{"b":229,"x":0.5,"y":0.535},{"b":229,"x":0.75,"y":0.540},{"b":229,"x":1,"y":0.550}
]
},
"hconcat": [
{
 "width": 1683, "height": 1422,
 "layer": [
  {"data": {"name": "m"},
   "mark": {"type": "line", "color": "#ff0000", "strokeWidth": 5, "interpolate": "monotone"},
   "encoding": {
    "x": {"field": "x", "type": "quantitative", "scale": {"domain": [0, 6.56], "nice": false, "zero": false},
          "axis": {"orient": "bottom", "values": [0, 1, 2, 3.414, 5.146, 6.56], "title": null,
                   "labelExpr": "datum.value < 0.5 ? 'Γ' : datum.value < 1.5 ? 'X' : datum.value < 2.5 ? 'M' : datum.value < 4 ? 'Γ' : datum.value < 6 ? 'R' : 'X'"}},
    "y": {"field": "y", "type": "quantitative", "scale": {"domain": [-0.129, 2.83], "nice": false, "zero": false},
          "axis": {"orient": "left", "values": [0, 0.5, 1, 1.5, 2, 2.5], "format": ".1f", "title": "Frequency", "titlePadding": 22}},
    "detail": {"field": "b", "type": "nominal"}
   }},
  {"data": {"values": [{}]},
   "mark": {"type": "rule", "color": "#0000ff", "strokeWidth": 2.5, "strokeDash": [2.5, 4.5]},
   "encoding": {
    "x": {"datum": 0, "type": "quantitative", "axis": {"orient": "top", "values": [0, 1, 2, 3.414, 5.146, 6.56], "labels": false, "title": null}},
    "x2": {"datum": 6.56},
    "y": {"datum": 0, "type": "quantitative", "axis": {"orient": "right", "values": [0, 0.5, 1, 1.5, 2, 2.5], "labels": false, "title": null}}
   }}
 ],
 "resolve": {"axis": {"x": "independent", "y": "independent"}}
},
{
 "width": 257, "height": 1422,
 "layer": [
  {"data": {"name": "r"},
   "mark": {"type": "line", "color": "#ff0000", "strokeWidth": 5, "interpolate": "monotone"},
   "encoding": {
    "x": {"field": "x", "type": "quantitative", "scale": {"domain": [0, 1], "nice": false, "zero": false},
          "axis": {"orient": "bottom", "values": [0, 1], "title": null, "labelExpr": "datum.value < 0.5 ? 'R' : 'M'"}},
    "y": {"field": "y", "type": "quantitative", "scale": {"domain": [-0.129, 2.83], "nice": false, "zero": false},
          "axis": {"orient": "left", "values": [0, 0.5, 1, 1.5, 2, 2.5], "labels": false, "title": null}},
    "detail": {"field": "b", "type": "nominal"}
   }},
  {"data": {"values": [{}]},
   "mark": {"type": "rule", "color": "#0000ff", "strokeWidth": 2.5, "strokeDash": [2.5, 4.5]},
   "encoding": {
    "x": {"datum": 0, "type": "quantitative", "axis": {"orient": "top", "values": [0, 1], "labels": false, "title": null}},
    "x2": {"datum": 1},
    "y": {"datum": 0, "type": "quantitative", "axis": {"orient": "right", "values": [0, 0.5, 1, 1.5, 2, 2.5], "labels": false, "title": null}}
   }}
 ],
 "resolve": {"axis": {"x": "independent", "y": "independent"}}
}
]
}
